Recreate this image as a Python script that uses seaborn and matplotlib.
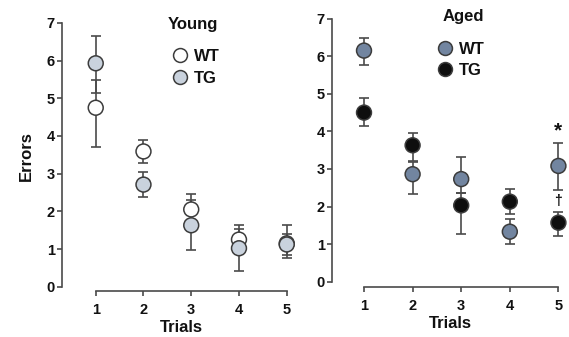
"""
Errors per trial for young and aged WT / TG mice - two panel dot plot
"""

import numpy as np
import pandas as pd
import matplotlib
matplotlib.use("Agg")
import matplotlib.pyplot as plt
from matplotlib.lines import Line2D
import seaborn as sns

# Data (mean, lower and upper end of error bar)
trials = [1, 2, 3, 4, 5]

young_wt = [4.75, 3.59, 2.05, 1.25, 1.15]
young_wt_lo = [3.72, 3.28, 1.65, 1.00, 0.77]
young_wt_hi = [5.49, 3.90, 2.45, 1.52, 1.65]
young_tg = [5.93, 2.71, 1.63, 1.02, 1.12]
young_tg_lo = [5.14, 2.37, 0.97, 0.42, 0.85]
young_tg_hi = [6.66, 3.05, 2.29, 1.63, 1.40]

aged_wt = [6.15, 2.86, 2.73, 1.33, 3.08]
aged_wt_lo = [5.76, 2.33, 2.35, 0.99, 2.44]
aged_wt_hi = [6.49, 3.19, 3.32, 1.67, 3.68]
aged_tg = [4.50, 3.63, 2.03, 2.13, 1.57]
aged_tg_lo = [4.13, 3.22, 1.26, 1.80, 1.22]
aged_tg_hi = [4.88, 3.96, 2.35, 2.47, 1.86]

y_ticks = [0, 1, 2, 3, 4, 5, 6, 7]

# Style
sns.set_style("ticks")
plt.rcParams['font.family'] = ['Liberation Sans', 'DejaVu Sans']
plt.rcParams['font.weight'] = 'bold'

TEXT = '#111111'
LINE = '#4a4a4a'
EDGE = '#3c3c3c'

colors = {
    'Young': {'WT': '#ffffff', 'TG': '#c9d2dd'},
    'Aged': {'WT': '#7285a0', 'TG': '#0e0e0e'},
}


def make_frame(wt, wt_lo, wt_hi, tg, tg_lo, tg_hi):
    rows = []
    for geno, m, lo, hi in [('WT', wt, wt_lo, wt_hi), ('TG', tg, tg_lo, tg_hi)]:
        for t, v, l, h in zip(trials, m, lo, hi):
            rows.append({'Trial': t, 'Errors': v, 'lo': l, 'hi': h, 'Genotype': geno})
    return pd.DataFrame(rows)


def draw_panel(ax, df, group, xlim, ylim, title_xy, legend_anchor, spacing, xlabelpad):
    fig = ax.figure
    palette = colors[group]
    for geno in ['WT', 'TG']:
        sub = df[df['Genotype'] == geno]
        yerr = np.vstack([sub['Errors'] - sub['lo'], sub['hi'] - sub['Errors']])
        ax.errorbar(sub['Trial'], sub['Errors'], yerr=yerr, fmt='none',
                    ecolor=LINE, elinewidth=1.2, capsize=3.6, capthick=1.2, zorder=2)
    sns.scatterplot(data=df, x='Trial', y='Errors', hue='Genotype', palette=palette,
                    s=115, edgecolor=EDGE, linewidth=1.1, legend=False, ax=ax, zorder=3)

    ax.set_xlim(*xlim)
    ax.set_ylim(*ylim)
    ax.set_xticks(trials)
    ax.set_yticks(y_ticks)
    ax.spines['right'].set_visible(False)
    ax.spines['top'].set_visible(False)
    ax.spines['left'].set_bounds(0, 7)
    ax.spines['bottom'].set_bounds(1, 5)
    for sp in ['left', 'bottom']:
        ax.spines[sp].set_color(LINE)
        ax.spines[sp].set_linewidth(1.2)
    ax.tick_params(axis='both', length=3.5, width=1.2, color=LINE, pad=2,
                   labelsize=10.5, labelcolor=TEXT)
    ax.tick_params(axis='x', pad=5)
    for lab in ax.get_xticklabels() + ax.get_yticklabels():
        lab.set_fontweight('bold')
    ax.set_xlabel('Trials', fontsize=12, fontweight='bold', color=TEXT, labelpad=xlabelpad)
    ax.set_ylabel('')

    # legend: group name as a heading, then the two genotypes
    fig.text(title_xy[0] / 569, 1 - title_xy[1] / 337, group, ha='center', va='center',
             fontsize=12, fontweight='bold', color=TEXT)
    handles = [Line2D([], [], marker='o', ls='', markersize=10, markerfacecolor=palette[g],
                      markeredgecolor=EDGE, markeredgewidth=1.1, label=g) for g in ['WT', 'TG']]
    leg = ax.legend(handles=handles, loc='upper left',
                    bbox_to_anchor=(legend_anchor[0] / 569, 1 - legend_anchor[1] / 337),
                    bbox_transform=fig.transFigure,
                    frameon=False, handlelength=1.0, handletextpad=0.35,
                    labelspacing=spacing, borderpad=0.2,
                    prop={'weight': 'bold', 'size': 12})
    for t in leg.get_texts():
        t.set_color(TEXT)


fig = plt.figure(figsize=(5.69, 3.37), dpi=100)
ax1 = fig.add_axes([0.1095, 0.1359, 0.4196, 0.8015])
ax2 = fig.add_axes([0.5842, 0.1475, 0.4143, 0.8027])

young_df = make_frame(young_wt, young_wt_lo, young_wt_hi, young_tg, young_tg_lo, young_tg_hi)
aged_df = make_frame(aged_wt, aged_wt_lo, aged_wt_hi, aged_tg, aged_tg_lo, aged_tg_hi)

draw_panel(ax1, young_df, 'Young', (0.3, 5.3), (-0.12, 7.05),
           (193, 25), (160, 37), 0.42, 2)
draw_panel(ax2, aged_df, 'Aged', (0.35, 5.2), (-0.15, 7.05),
           (463, 16), (425, 30), 0.38, 2)

ax1.set_ylabel('Errors', fontsize=12, fontweight='bold', color=TEXT, labelpad=9)

# significance marks on aged trial 5
ax2.text(trials[4], aged_wt_hi[4] + 0.33, '*', ha='center', va='center',
         fontsize=15, fontweight='bold', color=TEXT)
ax2.text(trials[4], (aged_wt_lo[4] + aged_tg_hi[4]) / 2, '\u2020', ha='center', va='center',
         fontsize=10, fontweight='bold', color=TEXT)

fig.savefig('out.png', dpi=100)
